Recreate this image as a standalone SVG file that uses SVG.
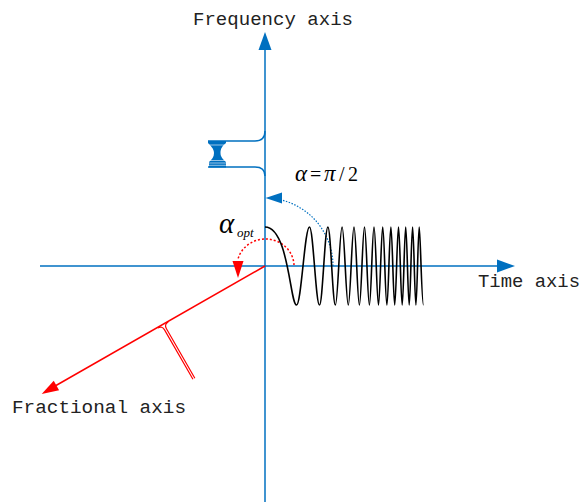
<svg xmlns="http://www.w3.org/2000/svg" width="582" height="504" viewBox="0 0 582 504">
<style>
.axis{stroke:#0070C0;stroke-width:1.5;fill:none}
.blue{fill:#0070C0}
.lbl{font-family:"Liberation Mono",monospace;font-size:19px;fill:#222}
.math{font-family:"Liberation Serif",serif;fill:#000}
</style>
<rect width="582" height="504" fill="#fff"/>
<g id="connectors">
  <line class="axis" x1="265" y1="502" x2="265" y2="48"/>
  <polygon class="blue" points="265,32 258.5,50 271.5,50"/>
  <line class="axis" x1="40" y1="266" x2="498" y2="266"/>
  <polygon class="blue" points="515,266 497,259.5 497,272.5"/>
  <line x1="265" y1="266" x2="56" y2="385.5" stroke="#FF0000" stroke-width="1.5"/>
  <polygon fill="#FF0000" points="41.7,394 53.7,380.7 59.1,390.3"/>
  <path d="M333,266 A68,68 0 0 0 283,200.4" fill="none" stroke="#0070C0" stroke-width="1.2" stroke-dasharray="1.5,1.5"/>
  <polygon class="blue" points="265.5,198 282,192.5 282,203.5"/>
  <path d="M294,265 A28.5,27 0 0 0 238,259" fill="none" stroke="#FF0000" stroke-width="1.5" stroke-dasharray="2,2"/>
  <polygon fill="#FF0000" points="232.5,261 243.5,261 238,278"/>
</g>
<g id="freq-spectrum">
  <path class="axis" d="M265,131 Q265,141 255,141 L208,141 M208,167 L255,167 Q265,167 265,176"/>
  <path class="blue" d="M208,141 L226,141 L226,143 C222,146 220.5,149 220.5,153 C220.5,157 223,159 226,162 L226,167.5 L209,167.5 L209,162 C212,159 214,157 214,153 C214,149 211,146 208,143 Z"/>
  <g stroke="#fff" stroke-width="0.6">
    <line x1="205" y1="145" x2="230" y2="145"/>
    <line x1="205" y1="160.5" x2="230" y2="160.5"/>
    <line x1="205" y1="163" x2="230" y2="163"/>
    <line x1="205" y1="165.3" x2="230" y2="165.3"/>
  </g>
</g>
<g id="frac-spectrum" transform="translate(163,325) rotate(-29.9)">
  <path d="M-6,0 Q-1.1,0 -1.1,5 L-1.1,62 M6,0 Q1.1,0 1.1,5 L1.1,62" fill="none" stroke="#FF0000" stroke-width="1.2"/>
</g>
<g id="chirp">
  <path fill="none" stroke="#000" stroke-width="1.6" d="M265,227 C288.6,227 290.2,305 296.5,305 C301.3,305 304.7,227 309.5,227 C313.2,227 315.8,305 319.5,305 C322.6,305 324.8,227 327.9,227 C330.7,227 332.6,305 335.4,305 C337.9,305 339.6,227 342.1,227 C344.4,227 346,305 348.3,305 C350.4,305 351.9,227 354,227 C356,227 357.4,305 359.4,305 C361.3,305 362.6,227 364.5,227 C366.3,227 367.6,305 369.4,305 C371.1,305 372.3,227 374,227 C375.7,227 376.8,305 378.5,305 C380,305 381.2,227 382.7,227 C384.3,227 385.3,305 386.9,305 C388.4,305 389.4,227 390.9,227 C392.3,227 393.3,305 394.7,305 C396.1,305 397.1,227 398.5,227 C399.9,227 400.8,305 402.2,305 C403.5,305 404.4,227 405.7,227 C407,227 407.9,305 409.2,305 C410.5,305 411.3,227 412.6,227 C413.8,227 414.7,305 415.9,305 C417.1,305 418,227 419.2,227 C420.4,227 421.5,305 423.5,305"/>
</g>
<g id="labels">
  <text class="lbl" x="193" y="25" textLength="160" lengthAdjust="spacingAndGlyphs">Frequency axis</text>
  <text class="lbl" x="478" y="287" textLength="102" lengthAdjust="spacingAndGlyphs">Time axis</text>
  <text class="lbl" x="12" y="413" textLength="174" lengthAdjust="spacingAndGlyphs">Fractional axis</text>
  <text class="math" y="181" font-size="20"><tspan x="295" font-size="23" font-style="italic">α</tspan><tspan x="310">=</tspan><tspan x="324" font-size="23" font-style="italic">π</tspan><tspan x="339">/</tspan><tspan x="348">2</tspan></text>
  <text class="math" y="233" font-size="29" font-style="italic"><tspan x="219">α</tspan><tspan x="237" y="237" font-size="13">opt</tspan></text>
</g>
</svg>
